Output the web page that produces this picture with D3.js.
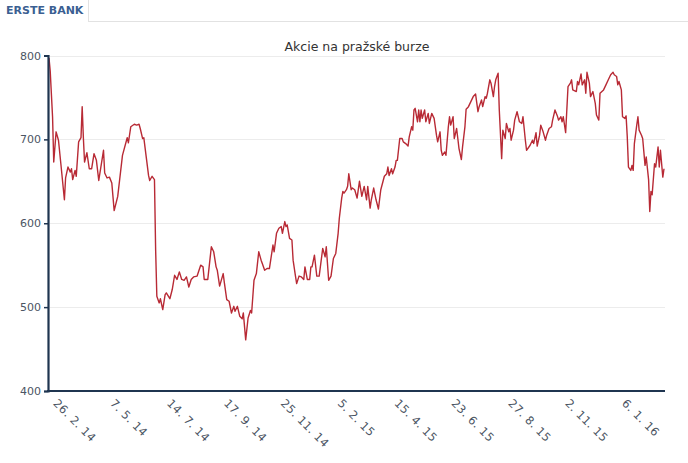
<!DOCTYPE html>
<html>
<head>
<meta charset="utf-8">
<script src="https://cdn.jsdelivr.net/npm/d3@7"></script>
<style>
  html, body { margin: 0; padding: 0; background: #ffffff; }
  svg { display: block; }
</style>
</head>
<body>
<svg id="chart" width="688" height="463"></svg>
<script>
// ---- data ----
const tabLabel = "ERSTE BANK";
const chartTitle = "Akcie na pražské burze";
const yTicks = [400, 500, 600, 700, 800];
const xTickLabels = ["26. 2. 14", "7. 5. 14", "14. 7. 14", "17. 9. 14", "25. 11. 14",
  "5. 2. 15", "15. 4. 15", "23. 6. 15", "27. 8. 15", "2. 11. 15", "6. 1. 16"];
const daysPerLabel = 48;
const totalDays = 520;
// trading-day index of each sampled quote
const day = [0,1,3,4,6,8,10,13,14,16,18,19,20,22,23,25,27,28,29,30,32,34,36,38,40,42,46,47,49,51,53,55,58,62,66,67,69,72,74,76,77,79,80,84,85,87,89,90,91,93,94,96,98,99,102,104,106,108,110,112,114,116,118,120,122,125,128,130,131,134,137,139,141,142,144,147,148,150,152,154,156,157,159,161,163,164,166,168,170,171,173,175,177,179,180,182,184,186,189,190,192,194,196,197,199,200,201,203,205,206,208,209,211,213,215,216,218,220,221,222,224,226,228,229,231,233,234,236,238,240,242,244,245,247,248,249,251,252,253,255,256,258,260,262,264,266,268,269,271,272,274,276,278,280,283,285,286,287,289,290,292,293,294,296,298,299,301,303,304,306,307,308,309,311,312,313,314,315,317,318,320,321,323,325,327,328,330,331,332,334,335,337,338,339,341,342,344,345,346,348,349,351,352,354,356,358,360,362,363,365,366,368,369,370,372,373,375,376,377,379,380,382,383,385,386,388,389,390,392,393,395,397,399,400,402,403,406,408,409,411,412,414,415,417,419,420,422,424,425,427,429,430,432,433,434,436,438,440,441,442,445,446,447,449,450,452,453,454,456,457,459,461,462,464,465,468,470,472,474,476,477,479,480,481,483,484,486,487,488,489,491,492,493,494,496,497,498,500,501,503,504,506,507,508,509,511,512,514,515,516,518,519];
// closing price (CZK)
const price = [797,782,727,673,709,699,671,628,654,667,661,665,652,663,656,697,702,739,702,673,684,665,665,683,675,651,687,660,654,655,648,615,632,681,702,696,715,718,717,718,713,701,702,657,651,656,652,568,513,505,510,497,515,517,510,521,538,533,542,533,532,536,524,533,536,537,550,548,533,533,572,566,548,544,525,540,529,509,507,493,501,495,501,489,486,493,461,487,496,493,532,540,566,556,552,544,546,546,574,566,588,594,596,588,602,596,598,582,580,556,537,528,537,536,533,548,533,533,548,548,562,537,537,548,570,560,572,532,537,558,564,588,606,630,638,636,640,644,659,640,642,640,630,650,632,644,628,644,618,628,642,628,617,640,656,659,667,657,665,659,667,675,675,701,701,697,695,692,703,715,711,735,737,721,735,721,735,725,735,721,731,719,731,725,705,697,709,687,681,685,681,715,727,717,727,701,713,701,689,676,691,715,736,739,745,751,754,733,739,747,739,751,749,755,771,767,751,763,771,779,735,677,711,701,719,709,713,699,711,723,733,721,719,727,699,687,693,699,695,708,692,705,717,709,699,705,713,715,723,735,728,723,727,721,727,708,763,767,771,759,757,769,765,778,765,771,755,780,767,751,757,743,729,723,755,759,765,771,777,780,777,775,765,769,759,727,725,728,703,667,663,669,663,695,717,727,711,705,701,669,679,652,614,638,634,671,667,691,667,687,655,665];

// ---- layout ----
const svg = d3.select("#chart");
const font = "'DejaVu Sans', Verdana, sans-serif";
const axisColor = "#1f3550";
const labelColor = "#4b5563";

// tab header
svg.append("line").attr("x1", 88).attr("x2", 688).attr("y1", 21.5).attr("y2", 21.5)
  .attr("stroke", "#e2e2e2").attr("stroke-width", 1);
svg.append("line").attr("x1", 88.5).attr("x2", 88.5).attr("y1", 0).attr("y2", 22)
  .attr("stroke", "#e2e2e2").attr("stroke-width", 1);
svg.append("text").attr("x", 6).attr("y", 14)
  .attr("font-family", font).attr("font-size", 11).attr("font-weight", "bold")
  .attr("fill", "#3b5f92").text(tabLabel);

// title
svg.append("text").attr("x", 357).attr("y", 51).attr("text-anchor", "middle")
  .attr("font-family", font).attr("font-size", 12.5).attr("fill", "#333")
  .text(chartTitle);

const x = d3.scaleLinear().domain([0, totalDays - 1]).range([49, 664]);
const y = d3.scaleLinear().domain([400, 800]).range([391, 55.5]);

// gridlines
svg.append("g").selectAll("line").data(yTicks.filter(t => t > 400)).join("line")
  .attr("x1", 50).attr("x2", 665)
  .attr("y1", d => Math.round(y(d)) + 0.5).attr("y2", d => Math.round(y(d)) + 0.5)
  .attr("stroke", "#ececec").attr("stroke-width", 1);

// line
const line = d3.line().x((d, i) => x(day[i])).y(d => y(d));
svg.append("path").datum(price).attr("d", line)
  .attr("fill", "none").attr("stroke", "#b82a35").attr("stroke-width", 1.4)
  .attr("stroke-linejoin", "round");

// y axis
const yAxis = svg.append("g").attr("transform", "translate(48,0)")
  .call(d3.axisLeft(y).tickValues(yTicks).tickSize(4).tickPadding(3).tickFormat(d3.format("d")));
yAxis.select(".domain").attr("stroke", axisColor).attr("stroke-width", 2.2);
yAxis.selectAll(".tick line").attr("stroke", axisColor).attr("stroke-width", 1.5);
yAxis.selectAll(".tick text").attr("font-family", font).attr("font-size", 11).attr("fill", labelColor);

// x axis
const xAxis = svg.append("g").attr("transform", "translate(0,391)")
  .call(d3.axisBottom(x).tickValues(xTickLabels.map((d, i) => i * daysPerLabel))
    .tickSize(0).tickFormat((d, i) => xTickLabels[i]));
xAxis.select(".domain").attr("stroke", axisColor).attr("stroke-width", 2.2)
  .attr("d", "M47,0H665");
xAxis.selectAll(".tick text")
  .attr("font-family", font).attr("font-size", 11.5).attr("fill", labelColor)
  .attr("letter-spacing", 0.4)
  .attr("text-anchor", "start").attr("dy", null).attr("y", 0).attr("x", 0)
  .attr("transform", "translate(3,13) rotate(45)");
</script>
</body>
</html>
